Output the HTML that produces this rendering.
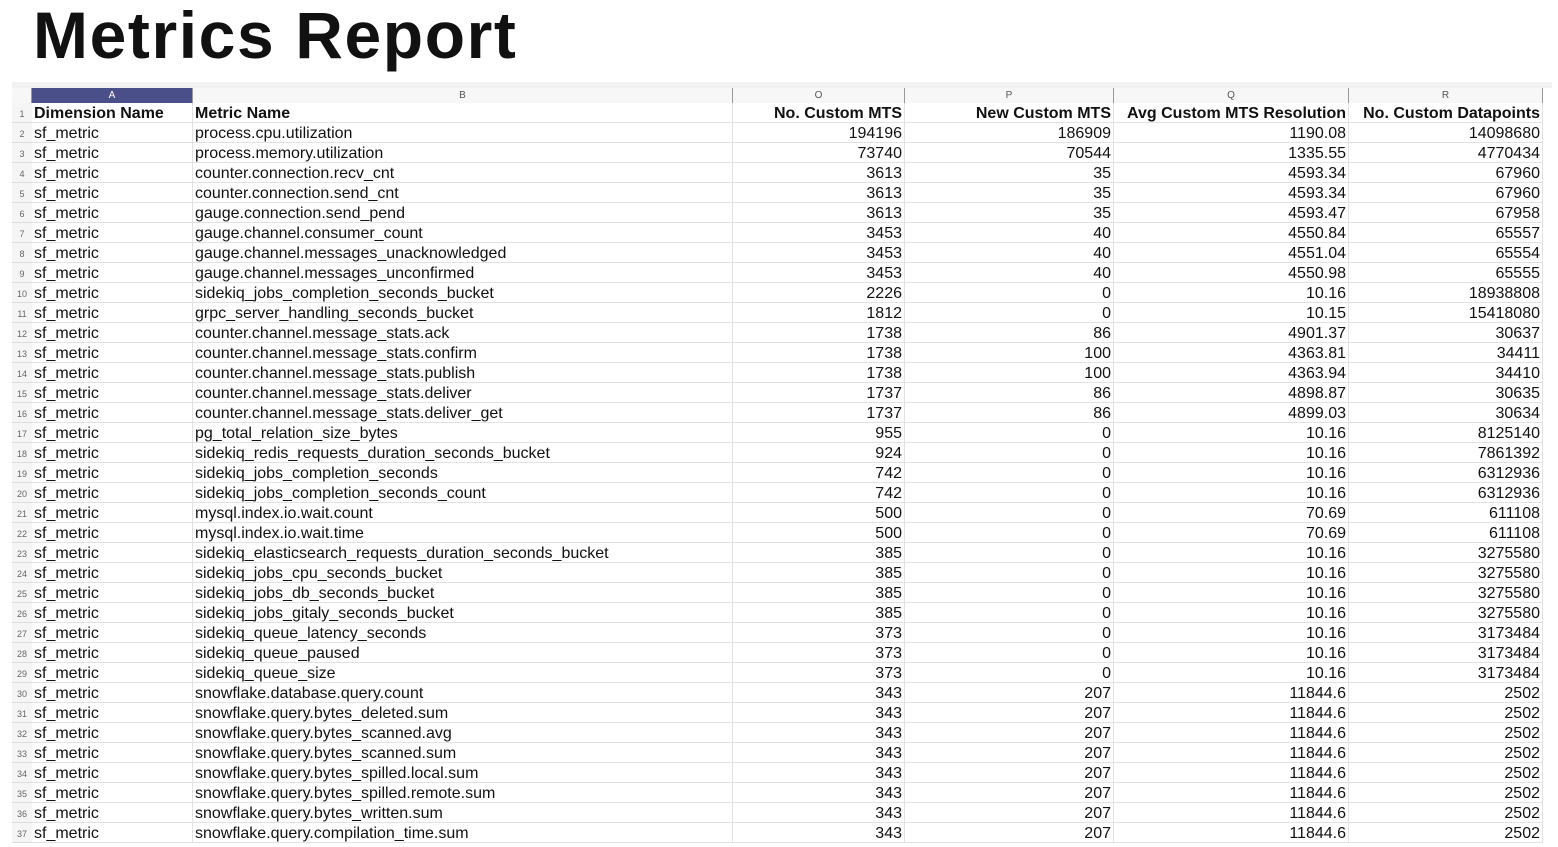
<!DOCTYPE html>
<html><head><meta charset="utf-8"><style>
body{margin:0;width:1558px;height:847px;background:#fff;overflow:hidden;font-family:"Liberation Sans",sans-serif;position:relative}
#title{position:absolute;left:33px;top:-3px;font-size:66px;font-weight:bold;color:#111;letter-spacing:1.6px}
#topbar{position:absolute;left:12px;top:82px;width:1540px;height:6px;background:#f2f2f2}
.hc{position:absolute;top:88px;height:15px;font-size:10px;color:#555;text-align:center;line-height:16px;background:#f7f7f7;border-right:1px solid #999;box-sizing:border-box}
.rn{position:absolute;left:12px;width:20px;height:20px;font-size:9px;color:#666;text-align:center;line-height:22px;background:#f5f5f5;border-bottom:1px solid #ddd;box-sizing:border-box}
.c{position:absolute;height:20px;font-size:16px;line-height:21px;color:#111;white-space:nowrap;overflow:hidden;border-right:1px solid #e2e2e2;border-bottom:1px solid #e2e2e2;box-sizing:border-box;padding:0 2px}
.r{text-align:right}
.b{font-weight:bold}
</style></head><body>
<div id="title">Metrics Report</div>
<div id="topbar"></div>
<div id="sheet"></div>
<script>
const colLetters=["A","B","O","P","Q","R"];
const headers=["Dimension Name","Metric Name","No. Custom MTS","New Custom MTS","Avg Custom MTS Resolution","No. Custom Datapoints"];
const metrics=["process.cpu.utilization","process.memory.utilization","counter.connection.recv_cnt","counter.connection.send_cnt","gauge.connection.send_pend","gauge.channel.consumer_count","gauge.channel.messages_unacknowledged","gauge.channel.messages_unconfirmed","sidekiq_jobs_completion_seconds_bucket","grpc_server_handling_seconds_bucket","counter.channel.message_stats.ack","counter.channel.message_stats.confirm","counter.channel.message_stats.publish","counter.channel.message_stats.deliver","counter.channel.message_stats.deliver_get","pg_total_relation_size_bytes","sidekiq_redis_requests_duration_seconds_bucket","sidekiq_jobs_completion_seconds","sidekiq_jobs_completion_seconds_count","mysql.index.io.wait.count","mysql.index.io.wait.time","sidekiq_elasticsearch_requests_duration_seconds_bucket","sidekiq_jobs_cpu_seconds_bucket","sidekiq_jobs_db_seconds_bucket","sidekiq_jobs_gitaly_seconds_bucket","sidekiq_queue_latency_seconds","sidekiq_queue_paused","sidekiq_queue_size","snowflake.database.query.count","snowflake.query.bytes_deleted.sum","snowflake.query.bytes_scanned.avg","snowflake.query.bytes_scanned.sum","snowflake.query.bytes_spilled.local.sum","snowflake.query.bytes_spilled.remote.sum","snowflake.query.bytes_written.sum","snowflake.query.compilation_time.sum"];
const customMts=[194196,73740,3613,3613,3613,3453,3453,3453,2226,1812,1738,1738,1738,1737,1737,955,924,742,742,500,500,385,385,385,385,373,373,373,343,343,343,343,343,343,343,343];
const newMts=[186909,70544,35,35,35,40,40,40,0,0,86,100,100,86,86,0,0,0,0,0,0,0,0,0,0,0,0,0,207,207,207,207,207,207,207,207];
const avgRes=["1190.08","1335.55","4593.34","4593.34","4593.47","4550.84","4551.04","4550.98","10.16","10.15","4901.37","4363.81","4363.94","4898.87","4899.03","10.16","10.16","10.16","10.16","70.69","70.69","10.16","10.16","10.16","10.16","10.16","10.16","10.16","11844.6","11844.6","11844.6","11844.6","11844.6","11844.6","11844.6","11844.6"];
const datapoints=[14098680,4770434,67960,67960,67958,65557,65554,65555,18938808,15418080,30637,34411,34410,30635,30634,8125140,7861392,6312936,6312936,611108,611108,3275580,3275580,3275580,3275580,3173484,3173484,3173484,2502,2502,2502,2502,2502,2502,2502,2502];

const xs=[32,193,733,905,1114,1349,1543];
const sheet=document.getElementById('sheet');
function mk(cls,l,t,w,txt){const d=document.createElement('div');d.className=cls;d.style.left=l+'px';d.style.top=t+'px';if(w)d.style.width=w+'px';d.textContent=txt;sheet.appendChild(d);return d;}
const corner=mk('hc',12,88,20,'');


for(let i=0;i<6;i++){
  const h=mk('hc',xs[i],88,xs[i+1]-xs[i],colLetters[i]);
  if(i===0){h.style.background='#4a4f8a';h.style.color='#fff';}
  
  
}
const nRows=metrics.length+1;
for(let r=0;r<nRows;r++){
  const y=103+r*20;
  const rn=mk('rn',12,y,0,String(r+1));
  
  
  let vals;
  if(r===0) vals=headers;
  else { const k=r-1; vals=["sf_metric",metrics[k],customMts[k],newMts[k],avgRes[k],datapoints[k]]; }
  for(let i=0;i<6;i++){
    let cls='c'+(i>=2?' r':'')+(r===0?' b':'');
    const c=mk(cls,xs[i],y,xs[i+1]-xs[i],String(vals[i]));
    
    
  }
}
</script>
</body></html>
